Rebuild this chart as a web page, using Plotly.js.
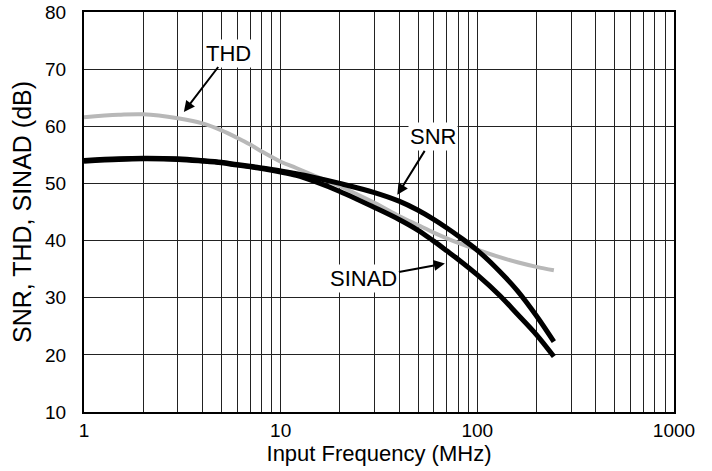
<!DOCTYPE html>
<html>
<head>
<meta charset="utf-8">
<script src="https://cdn.plot.ly/plotly-3.0.1.min.js"></script>
<style>
html,body{margin:0;padding:0;background:#fff;}
#chart{width:712px;height:471px;}
</style>
</head>
<body>
<div id="chart"></div>
<script>
// Input frequency (MHz)
var freq = [1, 1.5, 2, 3, 4, 5, 6, 7, 8, 10, 12, 15, 20, 30, 40, 50, 60, 70, 80, 100, 130, 160, 200, 245];
// THD (dB)
var thd = [61.6, 62.0, 62.1, 61.4, 60.5, 59.3, 58.0, 56.8, 55.6, 53.8, 52.7, 51.3, 49.5, 46.6, 44.3, 42.7, 41.4, 40.4, 39.6, 38.4, 37.1, 36.2, 35.4, 34.8];
// SNR (dB)
var snr = [54.0, 54.3, 54.4, 54.3, 54.0, 53.7, 53.3, 53.0, 52.7, 52.2, 51.7, 51.0, 50.0, 48.4, 46.9, 45.3, 43.7, 42.2, 40.8, 38.3, 34.6, 31.2, 26.8, 22.3];
// SINAD (dB)
var sinad = [53.9, 54.2, 54.3, 54.2, 53.9, 53.6, 53.2, 52.9, 52.6, 52.0, 51.4, 50.3, 48.6, 45.8, 43.7, 41.8, 39.9, 38.2, 36.7, 34.0, 30.4, 27.1, 23.5, 19.7];

// X tick values (grid at 1..9 of each decade), labels only at decades
var xTickVals = [1,2,3,4,5,6,7,8,9,10,20,30,40,50,60,70,80,90,100,200,300,400,500,600,700,800,900,1000];
var xTickText = xTickVals.map(function(v){ return (v===1||v===10||v===100||v===1000) ? String(v) : ''; });
var yTickVals = [10,20,30,40,50,60,70,80];

// Annotation labels: text, arrow tip (data), text offset (pixels)
var labelText = ['THD', 'SNR', 'SINAD'];
var labelTipX = [3.22, 39.2, 68.4];
var labelTipY = [62.5, 48.0, 36.0];
var labelAx = [45, 36, -81];
var labelAy = [-59, -58, 15];

var font = 'Liberation Sans, Arial, Helvetica, sans-serif';

var traces = [
  {x: freq, y: thd, mode: 'lines', line: {color: '#b8b8b8', width: 4, shape: 'spline', smoothing: 1}, name: 'THD'},
  {x: freq, y: snr, mode: 'lines', line: {color: '#000000', width: 5, shape: 'spline', smoothing: 1}, name: 'SNR'},
  {x: freq, y: sinad, mode: 'lines', line: {color: '#000000', width: 5, shape: 'spline', smoothing: 1}, name: 'SINAD'}
];

var annotations = labelText.map(function(t, i){
  return {
    text: t, x: Math.log10(labelTipX[i]), y: labelTipY[i], xref: 'x', yref: 'y',
    ax: labelAx[i], ay: labelAy[i], axref: 'pixel', ayref: 'pixel',
    showarrow: true, arrowhead: 2, arrowsize: 1.1, arrowwidth: 2, arrowcolor: '#000',
    font: {family: font, size: 22, color: '#000'}, bgcolor: '#ffffff', borderpad: 1
  };
});

var layout = {
  width: 712, height: 471,
  margin: {l: 84, r: 38, t: 12, b: 59},
  paper_bgcolor: '#fff', plot_bgcolor: '#fff',
  showlegend: false, hovermode: false,
  font: {family: font, color: '#000'},
  xaxis: {
    type: 'log', range: [0, 3], tickmode: 'array', tickvals: xTickVals, ticktext: xTickText,
    showgrid: true, gridcolor: '#222', gridwidth: 1, zeroline: false,
    showline: true, linecolor: '#000', linewidth: 2, mirror: true,
    ticks: '', ticklabelstandoff: 0,
    tickfont: {family: font, size: 19, color: '#000'},
    title: {text: 'Input Frequency (MHz)', font: {family: font, size: 22, color: '#000'}, standoff: 2}
  },
  yaxis: {
    range: [10, 80], tickmode: 'array', tickvals: yTickVals,
    showgrid: true, gridcolor: '#222', gridwidth: 1, zeroline: false,
    showline: true, linecolor: '#000', linewidth: 2, mirror: true,
    ticks: '', ticklabelstandoff: 12,
    tickfont: {family: font, size: 19, color: '#000'},
    title: {text: 'SNR, THD, SINAD (dB)', font: {family: font, size: 25, color: '#000'}, standoff: 6}
  },
  annotations: annotations
};

Plotly.newPlot('chart', traces, layout, {displayModeBar: false, staticPlot: true});
</script>
</body>
</html>
